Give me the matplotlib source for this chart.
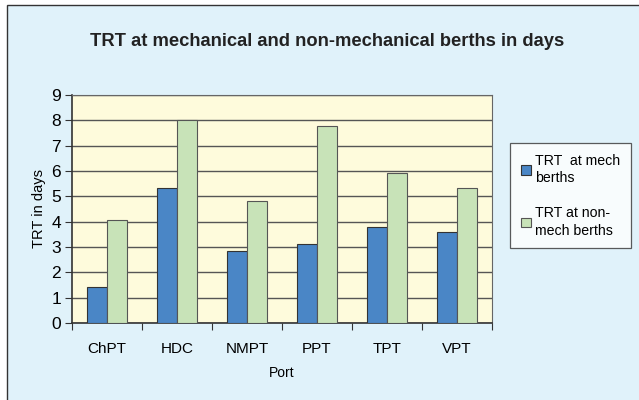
import numpy as np
import matplotlib.pyplot as plt
from matplotlib.patches import Rectangle

plt.rcParams['font.family'] = ['Liberation Sans', 'DejaVu Sans']

# Data
ports = ["ChPT", "HDC", "NMPT", "PPT", "TPT", "VPT"]
trt_mech = [1.43, 5.32, 2.83, 3.11, 3.79, 3.58]
trt_non_mech = [4.08, 8.02, 4.82, 7.77, 5.93, 5.32]

fig = plt.figure(figsize=(6.39, 4.0), dpi=100, facecolor="white")

# light blue chart area with a dark frame on the left/top
fig.patches.append(Rectangle((7 / 639, -0.1), 1.2, (395 / 400) + 0.1,
                             transform=fig.transFigure, facecolor="#e0f2fa",
                             edgecolor="#333333", linewidth=1.0, zorder=-1))

ax = fig.add_axes([72 / 639, 77 / 400, 420 / 639, 228 / 400])
ax.set_facecolor("#fefbdc")

x = np.arange(len(ports))
w = 0.285
ax.bar(x - w / 2, trt_mech, w, color="#4a86c6", edgecolor="#333333", linewidth=0.8,
       label="TRT  at mech\nberths", zorder=3)
ax.bar(x + w / 2, trt_non_mech, w, color="#c8e3b8", edgecolor="#555555", linewidth=0.8,
       label="TRT at non-\nmech berths", zorder=3)

ax.set_xlim(-0.5, 5.5)
ax.set_ylim(0, 9)
ax.set_yticks(range(10))
ax.set_xticks(np.arange(-0.5, 6, 1), minor=False)
ax.set_xticklabels([])
ax.set_xticks(x, minor=True)
ax.set_xticklabels(ports, minor=True, fontsize=11)
ax.tick_params(axis="x", which="minor", length=0, pad=14)
ax.tick_params(axis="x", which="major", length=5, direction="out", color="#333333")
ax.tick_params(axis="y", length=5, labelsize=12.5, color="#333333", pad=3)
ax.grid(axis="y", color="#555555", linewidth=1.0, zorder=0)

for side in ["top", "right"]:
    ax.spines[side].set_color("#666666")
for side in ["left", "bottom"]:
    ax.spines[side].set_color("#333333")
    ax.spines[side].set_linewidth(1.2)

ax.set_xlabel("Port", fontsize=10, labelpad=7)
ax.set_ylabel("TRT in days", fontsize=10.5, labelpad=4)

fig.text(327 / 639, 1 - 41 / 400, "TRT at mechanical and non-mechanical berths in days",
         ha="center", va="center", fontsize=13.2, fontweight="bold", color="#222222")

leg = ax.legend(loc="upper left", bbox_to_anchor=(510 / 639, 1 - 143 / 400),
                bbox_transform=fig.transFigure, fontsize=10.2, frameon=True,
                fancybox=False, edgecolor="#333333", labelspacing=1.45,
                handlelength=0.7, handleheight=0.7, handletextpad=0.3,
                borderpad=0.75, borderaxespad=0)
for t in leg.get_texts():
    t.set_linespacing(1.35)
leg.get_frame().set_facecolor("white")
leg.get_frame().set_linewidth(0.9)

fig.savefig("out.png", dpi=100, facecolor=fig.get_facecolor())
